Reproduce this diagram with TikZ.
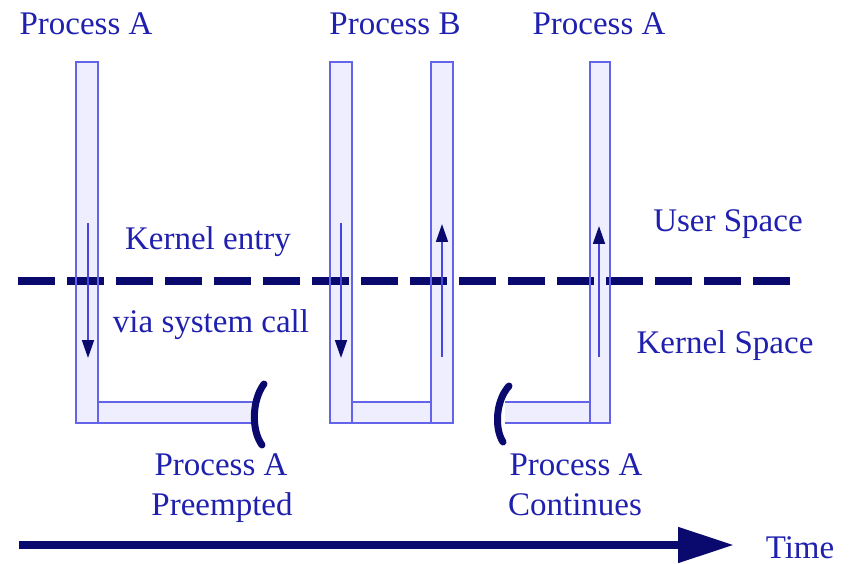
\documentclass[tikz,border=0pt]{standalone}
\usepackage{fontspec}
\setmainfont{Liberation Serif}
\usetikzlibrary{arrows.meta}
\definecolor{navy}{RGB}{10,10,110}
\definecolor{txtblue}{RGB}{32,32,175}
\definecolor{barline}{RGB}{100,100,235}
\definecolor{barfill}{RGB}{238,238,255}
\definecolor{shaft}{RGB}{70,70,220}
\tikzset{
  barbody/.style={fill=barfill},
  barside/.style={draw=barline, line width=1.6pt},
  flow/.style={draw=shaft, line width=1.8pt, -{Triangle[length=18pt,width=12pt,color=navy]}},
  label/.style={text=txtblue, font=\fontsize{33}{39}\selectfont, anchor=base, inner sep=0pt},
  cut/.style={draw=navy, line width=7pt, line cap=round},
}
\begin{document}
\begin{tikzpicture}[x=1pt,y=-1pt]
\useasboundingbox (0,0) rectangle (852,564);

% ---- bar bodies (filled first, outlined after the boundary line)
\fill[barbody] (98,402) rectangle (258,423);
\fill[barbody] (76,62) rectangle (98,423);
\fill[barbody] (352,402) rectangle (431,423);
\fill[barbody] (330,62) rectangle (352,423);
\fill[barbody] (431,62) rectangle (453,423);
\fill[barbody] (505,402) rectangle (590,423);
\fill[barbody] (590,62) rectangle (610,423);

% ---- user / kernel boundary
\coordinate (bl) at (18,281);
\coordinate (br) at (790,281);
\draw[navy, line width=8pt, dash pattern=on 37pt off 12pt] (bl) -- (br);

% ---- bar outlines
% Process A (first run)
\draw[barside] (98,402) -- (258,402) (98,423) -- (258,423);
\draw[barside] (76,62) rectangle (98,423);
% Process B
\draw[barside] (352,402) rectangle (431,423);
\draw[barside] (330,62) rectangle (352,423);
\draw[barside] (431,62) rectangle (453,423);
% Process A (continued)
\draw[barside] (505,402) -- (590,402) (505,423) -- (590,423);
\draw[barside] (590,62) rectangle (610,423);

% ---- direction of control inside the bars
\coordinate (a1s) at (88,223);  \coordinate (a1e) at (88,358);
\coordinate (a2s) at (341,223); \coordinate (a2e) at (341,358);
\coordinate (a3s) at (442,357); \coordinate (a3e) at (442,224);
\coordinate (a4s) at (599,357); \coordinate (a4e) at (599,226);
\draw[flow] (a1s) -- (a1e);
\draw[flow] (a2s) -- (a2e);
\draw[flow] (a3s) -- (a3e);
\draw[flow] (a4s) -- (a4e);

% ---- break marks where process A is suspended / resumed
\coordinate (c1a) at (264,384); \coordinate (c1b) at (262,445);
\coordinate (c2a) at (509,386); \coordinate (c2b) at (503,442);
\draw[cut] (c1a) .. controls (252,400) and (251,430) .. (c1b);
\draw[cut] (c2a) .. controls (496,400) and (494,428) .. (c2b);

% ---- time axis
\coordinate (t0) at (19,545);
\coordinate (t1) at (734,545);
\draw[navy, line width=8pt, -{Triangle[length=56pt,width=34pt]}] (t0) -- (t1);

% ---- labels
\node[label] (pa1) at (86,35) {Process A};
\node[label] (pb)  at (395,35) {Process B};
\node[label] (pa2) at (599,35) {Process A};
\node[label] (ke)  at (208,250) {Kernel entry};
\node[label] (vs)  at (211,332) {via system call};
\node[label] (us)  at (728,232) {User Space};
\node[label] (ks)  at (725,353) {Kernel Space};
\node[label] (pp1) at (221,475) {Process A};
\node[label] (pp2) at (222,515) {Preempted};
\node[label] (pc1) at (576,475) {Process A};
\node[label] (pc2) at (575,515) {Continues};
\node[label] (tm)  at (800,558) {Time};
\end{tikzpicture}
\end{document}
